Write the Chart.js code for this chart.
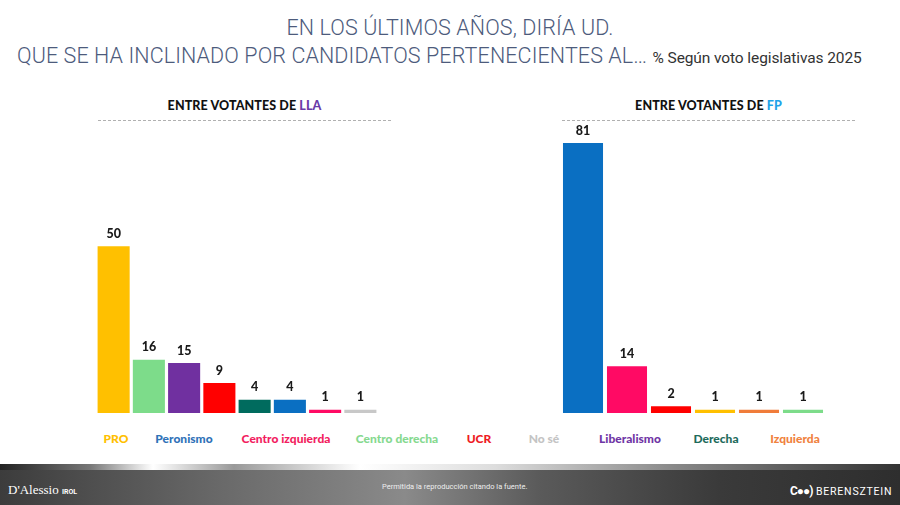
<!DOCTYPE html>
<html>
<head>
<meta charset="utf-8">
<script src="https://cdn.jsdelivr.net/npm/chart.js@4.4.1/dist/chart.umd.min.js"></script>
<style>
  body { margin:0; width:900px; height:505px; background:#fff; position:relative; overflow:hidden; font-family: Lato, "Open Sans", sans-serif; }
  .title { position:absolute; left:0; width:900px; text-align:center; color:#4d5b7c; font-family: Roboto, sans-serif; font-weight:300; font-size:21.5px; letter-spacing:0.1px; white-space:nowrap; }
  .title small { font-size:15.5px; letter-spacing:-0.1px; color:#333; font-weight:400; }
  .sub { position:absolute; top:98px; font-weight:900; font-size:12.5px; color:#111; text-align:center; letter-spacing:0.1px; }
  .dash { position:absolute; top:120px; height:0; border-top:1px dashed #b0b0b0; }
  .lg { position:absolute; top:431px; font-weight:900; font-size:12px; transform:translateX(-50%); white-space:nowrap; }
  canvas { position:absolute; }
  .foot { position:absolute; left:0; top:464px; width:900px; height:41px;
    background: linear-gradient(90deg, #3c3c3c 0%, #6a6a6a 25%, #8a8a8a 45%, #5a5a5a 60%, #3a3a3a 80%, #2e2e2e 100%); }
  .shine { position:absolute; left:0; top:464px; width:900px; height:6px;
    background: linear-gradient(90deg, #222 0%, #777 10%, #fff 17%, #999 26%, #fff 40%, #ddd 55%, #888 75%, #333 100%); }
  .ft { position:absolute; color:#fff; white-space:nowrap; }
</style>
</head>
<body>
<div class="title" style="top:15px;">EN LOS ÚLTIMOS AÑOS, DIRÍA UD.</div>
<div class="title" style="top:43px; text-align:left; left:17px;">QUE SE HA INCLINADO POR CANDIDATOS PERTENECIENTES AL… <small>% Según voto legislativas 2025</small></div>

<div class="sub" style="left:98px; width:293px;">ENTRE VOTANTES DE <span style="color:#6a3aa8">LLA</span></div>
<div class="dash" style="left:98px; width:293px;"></div>
<div class="sub" style="left:562px; width:293px;">ENTRE VOTANTES DE <span style="color:#1ea3e8">FP</span></div>
<div class="dash" style="left:562px; width:293px;"></div>

<canvas id="lla" width="282" height="330" style="left:96px; top:83px;"></canvas>
<canvas id="fp" width="264" height="330" style="left:561px; top:83px;"></canvas>

<div id="legend"></div>

<div class="foot"></div>
<div class="shine"></div>
<div class="ft" style="left:8px; top:482px; font-family:'Liberation Serif',serif; font-size:13px;">D'Alessio <span style="font-size:7px; font-family:Roboto; font-weight:700;">IROL</span></div>
<div class="ft" style="left:382px; top:482px; font-family:Roboto; font-size:7.5px; color:#eee;">Permitida la reproducción citando la fuente.</div>
<div class="ft" style="left:790px; top:484px; font-family:Roboto; font-size:10.5px; letter-spacing:0.8px;"><b style="font-size:12px; letter-spacing:-1px;">C●●)</b> BERENSZTEIN</div>

<script>
// datos
const llaCategories = ['PRO', 'Centro derecha', 'Liberalismo', 'UCR', 'Derecha', 'Peronismo', 'Centro izquierda', 'No sé'];
const llaValues = [50, 16, 15, 9, 4, 4, 1, 1];

const fpCategories = ['Peronismo', 'Centro izquierda', 'UCR', 'PRO', 'Izquierda', 'Centro derecha'];
const fpValues = [81, 14, 2, 1, 1, 1];

const legendLabels = ['PRO', 'Peronismo', 'Centro izquierda', 'Centro derecha', 'UCR', 'No sé', 'Liberalismo', 'Derecha', 'Izquierda'];

const colors = {
  'PRO': '#ffc000',
  'Peronismo': '#0a6fc2',
  'Centro izquierda': '#ff0a64',
  'Centro derecha': '#7ddc8a',
  'UCR': '#ff0000',
  'No sé': '#c8c8c8',
  'Liberalismo': '#7030a0',
  'Derecha': '#006b5e',
  'Izquierda': '#f07c3a'
};
const legendColors = {
  'PRO': '#ffc000',
  'Peronismo': '#2f72b8',
  'Centro izquierda': '#f21e5f',
  'Centro derecha': '#86d98f',
  'UCR': '#ee1c25',
  'No sé': '#c4c4c4',
  'Liberalismo': '#6f35a5',
  'Derecha': '#1e6b5c',
  'Izquierda': '#f08240'
};
const legendX = [116, 184, 286, 397, 479, 544, 630, 716, 795];

// legend
const legendBox = document.querySelector('#legend');
legendLabels.forEach((l, i) => {
  const d = document.createElement('div');
  d.className = 'lg';
  d.style.left = legendX[i] + 'px';
  d.style.color = legendColors[l];
  d.textContent = l;
  legendBox.appendChild(d);
});

// values above bars
const valueLabels = {
  id: 'valueLabels',
  afterDatasetsDraw(chart) {
    const ctx = chart.ctx;
    ctx.save();
    ctx.font = '900 12.5px Lato, sans-serif';
    ctx.fillStyle = '#1a1a1a';
    ctx.textAlign = 'center';
    ctx.textBaseline = 'bottom';
    chart.getDatasetMeta(0).data.forEach((bar, i) => {
      ctx.fillText(chart.data.datasets[0].data[i], bar.x, bar.y - 6);
    });
    ctx.restore();
  }
};

function makeChart(id, cats, vals) {
  new Chart(document.querySelector(id), {
    type: 'bar',
    data: {
      labels: cats,
      datasets: [{
        data: vals,
        backgroundColor: cats.map(c => colors[c]),
        borderWidth: 0,
        barPercentage: 0.91,
        categoryPercentage: 1
      }]
    },
    options: {
      responsive: false,
      animation: false,
      layout: { padding: { top: 30, left: 0, right: 0, bottom: 0 } },
      plugins: { legend: { display: false }, tooltip: { enabled: false } },
      scales: {
        x: { display: false },
        y: { display: false, min: 0, max: 90 }
      }
    },
    plugins: [valueLabels]
  });
}

makeChart('#lla', llaCategories, llaValues);
makeChart('#fp', fpCategories, fpValues);
</script>
</body>
</html>
